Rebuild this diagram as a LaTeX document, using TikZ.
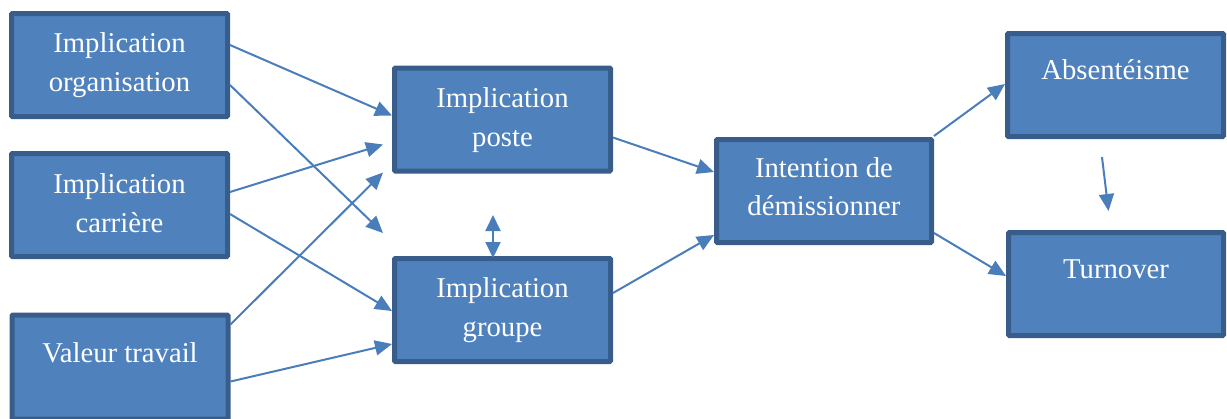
\documentclass[tikz,border=0pt]{standalone}
\usepackage{fontspec}
\setmainfont{Liberation Serif}
\usetikzlibrary{arrows.meta,calc}

\definecolor{boxfill}{HTML}{4F81BD}
\definecolor{boxline}{HTML}{385D8A}
\definecolor{arrowcol}{HTML}{4A7EBB}

\tikzset{
  box/.style={draw=boxline, fill=boxfill, line width=5pt, rounded corners=1pt,
              minimum width=216pt, minimum height=103pt, inner sep=0pt},
  lbl/.style={text=white, anchor=base, inner sep=0pt,
              font=\fontsize{28.7}{34}\selectfont},
  tip/.style={Triangle[length=17pt,width=15pt]},
  link/.style={draw=arrowcol, line width=2pt, -{Triangle[length=17pt,width=15pt]}},
  biln/.style={draw=arrowcol, line width=2pt,
               {Triangle[length=16pt,width=15pt]}-{Triangle[length=16pt,width=15pt]}},
}

\begin{document}
\begin{tikzpicture}[x=1pt,y=-1pt]
\useasboundingbox (0,0) rectangle (1227,418);
\clip (0,0) rectangle (1227,418);

% boxes
\node[box] (org)    at (119.5,65)  {};
\node[box] (carr)   at (119.5,205) {};
\node[box, minimum height=104pt] (valeur) at (120,367) {};
\node[box] (poste)  at (502.5,119.5) {};
\node[box] (groupe) at (502.5,310) {};
\node[box, minimum width=215pt] (intent) at (824,191) {};
\node[box] (absent) at (1115.5,85) {};
\node[box, minimum width=215pt] (turn) at (1116,284) {};

% labels
\node[lbl] (org-a)    at (119.5,52)  {Implication};
\node[lbl] (org-b)    at (119.5,91)  {organisation};
\node[lbl] (carr-a)   at (119.5,193) {Implication};
\node[lbl] (carr-b)   at (119.5,232) {carrière};
\node[lbl] (valeur-a) at (120,362)   {Valeur travail};
\node[lbl] (poste-a)  at (502.5,107) {Implication};
\node[lbl] (poste-b)  at (502.5,146) {poste};
\node[lbl] (groupe-a) at (502.5,297) {Implication};
\node[lbl] (groupe-b) at (502.5,336) {groupe};
\node[lbl] (intent-a) at (824,177)   {Intention de};
\node[lbl] (intent-b) at (824,215)   {démissionner};
\node[lbl] (absent-a) at (1115.5,79) {Absentéisme};
\node[lbl] (turn-a)   at (1116,278)  {Turnover};

% connectors
\draw[link] ($(org.north east)+(0,34)$)   -- ($(poste.north west)+(0,50)$);
\draw[link] ($(org.north east)+(0,74)$)   -- ($(groupe.north west)+(-9,-23)$);
\draw[link] ($(carr.north east)+(0,41)$)  -- ($(poste.north west)+(-9,79)$);
\draw[link] ($(carr.north east)+(0,63)$)  -- ($(groupe.north west)+(0,55)$);
\draw[link] ($(valeur.north east)+(0,12)$) -- ($(poste.south west)+(-9,-1)$);
\draw[link] ($(valeur.north east)+(0,69)$) -- ($(groupe.north west)+(0,88)$);

\coordinate (pg-top) at ($(groupe.north)+(-9.5,-41)$);
\draw[biln] (pg-top) -- ($(groupe.north)+(-9.5,2)$);

\draw[link] ($(poste.north east)+(0,72)$)  -- ($(intent.north west)+(0,35)$);
\draw[link] ($(groupe.north east)+(0,37)$) -- ($(intent.south west)+(0,-10)$);
\draw[link] ($(intent.north east)+(0,-1)$) -- ($(absent.north west)+(0,53)$);
\draw[link] ($(intent.south east)+(0,-12)$) -- ($(turn.north west)+(0,46)$);

\coordinate (at-top) at ($(absent.south)+(-13.5,18)$);
\coordinate (at-end) at ($(turn.north)+(-7.5,-19)$);
\draw[link] (at-top) -- (at-end);
\end{tikzpicture}
\end{document}
